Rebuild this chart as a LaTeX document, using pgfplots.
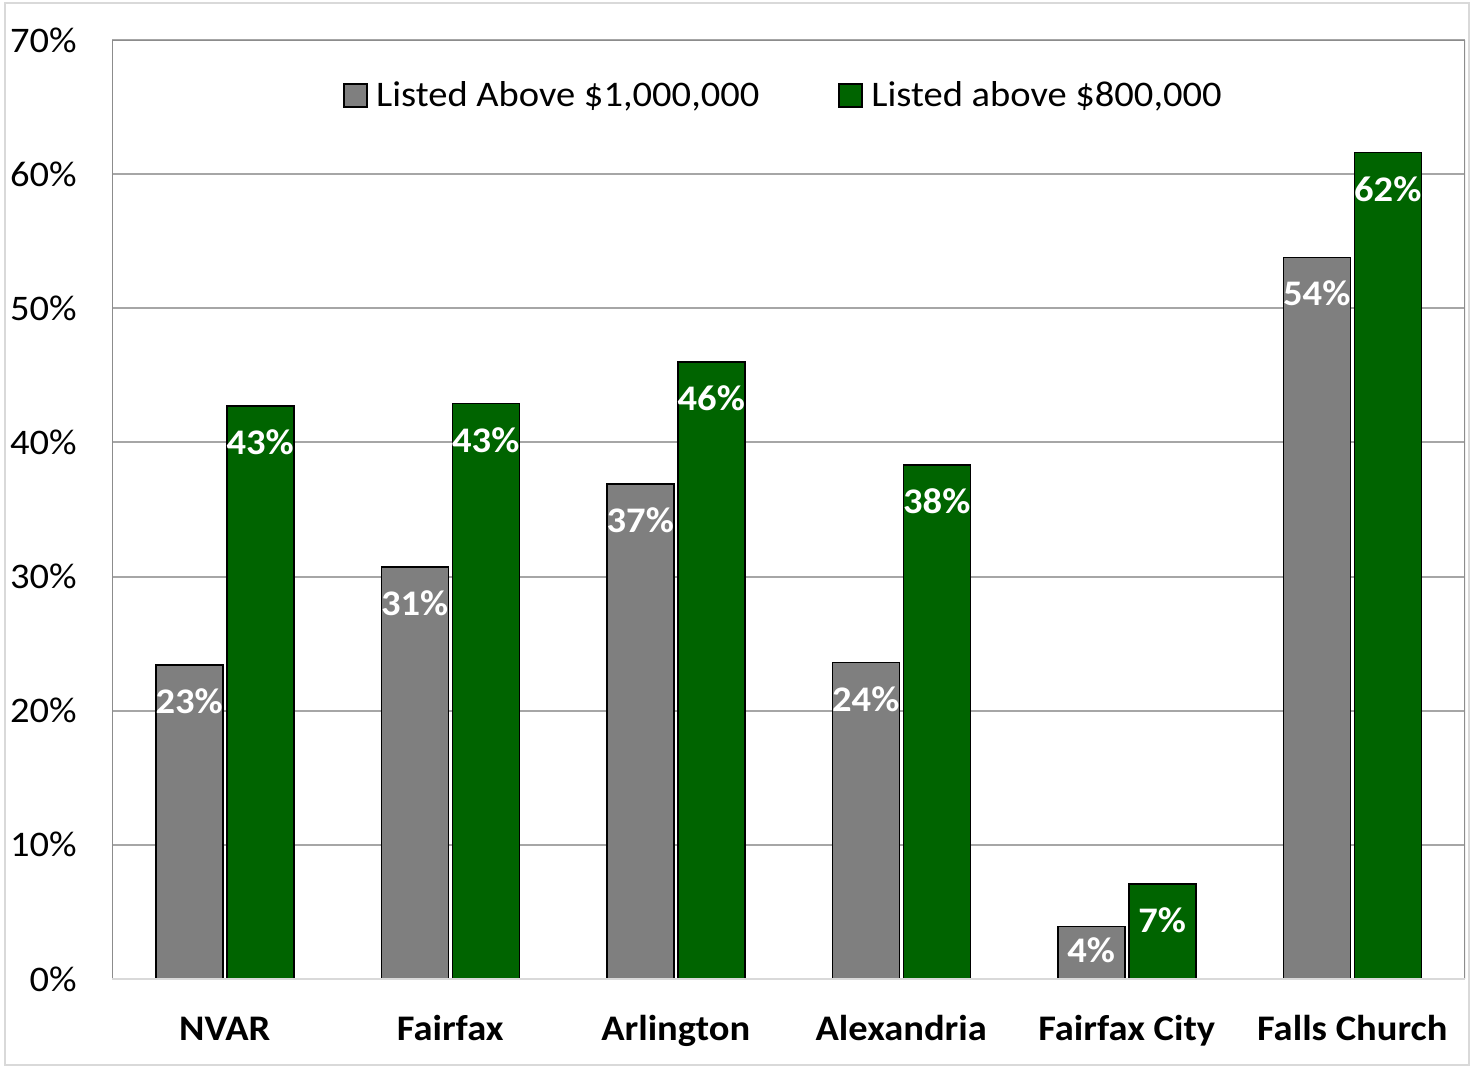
\documentclass[border=0pt]{standalone}
\usepackage{pgfplots}
\pgfplotsset{compat=1.18}
\usepackage{fontspec}
\setmainfont{Carlito}[FakeStretch=1.07]
\definecolor{bargray}{HTML}{7F7F7F}
\definecolor{bargreen}{HTML}{006400}
\definecolor{gridgray}{HTML}{A6A6A6}
\definecolor{framegray}{HTML}{8C8C8C}
\definecolor{lightframe}{HTML}{D9D9D9}
\begin{document}
\begin{tikzpicture}[x=1pt,y=1pt]
\path[use as bounding box] (0,0) rectangle (737.5,-534);
\draw[lightframe, line width=1pt] (2.5,-1.5) rectangle (734.5,-532.5);
\begin{axis}[
  at={(56pt,-489.5pt)}, anchor=south west,
  scale only axis, width=676.5pt, height=469.5pt,
  xmin=-0.5, xmax=5.5, ymin=0, ymax=70,
  ybar=2pt, bar width=33.5pt,
  xtick={0,...,5},
  xticklabels={NVAR,Fairfax,Arlington,Alexandria,Fairfax City,Falls Church},
  ytick={0,10,...,70},
  yticklabel={\pgfmathprintnumber[assume math mode=true]{\tick}\%},
  major tick length=0pt,
  axis line style={draw=none},
  ymajorgrids, grid style={gridgray, line width=1pt},
  tick label style={font=\fontsize{18}{21}\selectfont},
  xticklabel style={font=\fontsize{18}{21}\selectfont\bfseries, anchor=north, inner sep=0pt, text height=11.6pt, yshift=-19pt},
  yticklabel style={anchor=east, inner sep=0pt, xshift=-17.5pt},
  nodes near coords={\pgfmathprintnumber[fixed,precision=0,assume math mode=true]{\pgfplotspointmeta}\%},
  nodes near coords align={anchor=north},
  every node near coord/.append style={font=\fontsize{18}{21}\selectfont\bfseries, text=white, anchor=north, inner sep=0pt, yshift=-11.5pt},
  legend style={draw=none, fill=none, at={(0.4985,0.9405)}, anchor=center, legend columns=2,
    font=\fontsize{18}{21}\selectfont, /tikz/every even column/.append style={column sep=35pt},
    nodes={inner sep=4.25pt}},
]
\addplot[fill=bargray, draw=black, line width=0.75pt, bar shift=-17.75pt,
  legend image code/.code={\draw[fill=bargray, draw=black, line width=1pt] (0pt,-5.75pt) rectangle (11.5pt,5.75pt);}]
  coordinates {(0,23.4) (1,30.7) (2,36.9) (3,23.6) (5,53.8)};
\addlegendentry{Listed Above \$1,000,000}
\addplot[fill=bargreen, draw=black, line width=0.75pt, bar shift=17.75pt,
  legend image code/.code={\draw[fill=bargreen, draw=black, line width=1pt] (0pt,-5.75pt) rectangle (11.5pt,5.75pt);}]
  coordinates {(0,42.7) (1,42.9) (2,46.0) (3,38.3) (4,7.1) (5,61.6)};
\addlegendentry{Listed above \$800,000}
% the short Fairfax City bar: label sits higher, as in the reference
\addplot[fill=bargray, draw=black, line width=0.75pt, bar shift=-17.75pt, forget plot,
  every node near coord/.append style={yshift=6.5pt}]
  coordinates {(4,3.9)};
\draw[framegray, line width=1pt] (rel axis cs:0,0) -- (rel axis cs:0,1) -- (rel axis cs:1,1) -- (rel axis cs:1,0);
\draw[lightframe, line width=1pt] (rel axis cs:0,0) -- (rel axis cs:1,0);
\end{axis}
\end{tikzpicture}
\end{document}
